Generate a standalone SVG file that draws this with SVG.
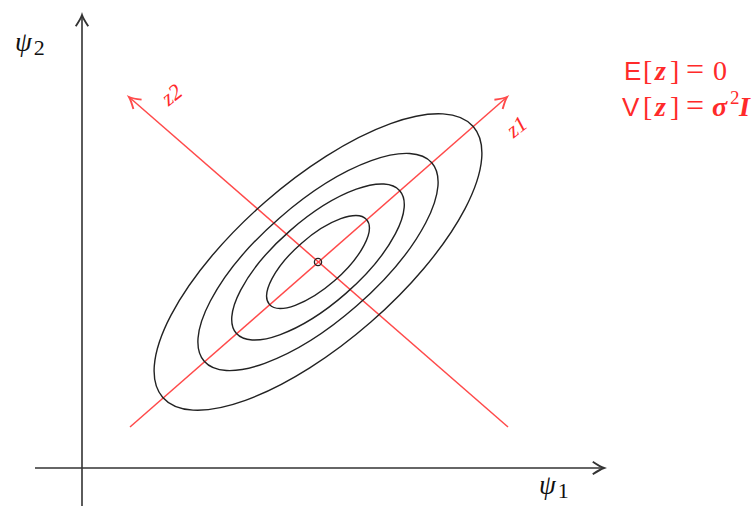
<svg xmlns="http://www.w3.org/2000/svg" width="755" height="506" viewBox="0 0 755 506">
<style>
.ax{stroke:#333;stroke-width:1.6;fill:none}
.rd{stroke:#ff4a4a;stroke-width:1.5;fill:none}
.el{stroke:#222;stroke-width:1.4;fill:none}
.math{font-family:"Liberation Serif","DejaVu Serif",serif;font-style:italic}
.red{fill:#ff2a2a}
.eq{font-family:"Liberation Serif","DejaVu Serif",serif;font-size:28px}
.sf{font-family:"Liberation Sans","DejaVu Sans",sans-serif;font-size:26px}
.bi{font-weight:bold;font-style:italic}
</style>
<defs>
<marker id="ahk" markerUnits="userSpaceOnUse" markerWidth="20" markerHeight="20" refX="0" refY="0" viewBox="-12 -8 14 16" orient="auto">
<path d="M-9,-5 Q-3,-1 0,0 Q-3,1 -9,5" fill="none" stroke="#333" stroke-width="1.5"/>
</marker>
<marker id="ahr" markerUnits="userSpaceOnUse" markerWidth="20" markerHeight="20" refX="0" refY="0" viewBox="-12 -8 14 16" orient="auto">
<path d="M-9,-5 Q-3,-1 0,0 Q-3,1 -9,5" fill="none" stroke="#ff4a4a" stroke-width="1.5"/>
</marker>
</defs>
<rect width="755" height="506" fill="#fff"/>
<g id="connectors">
<line class="ax" x1="82" y1="506" x2="82" y2="15" marker-end="url(#ahk)"/>
<line class="ax" x1="35" y1="468" x2="604" y2="468" marker-end="url(#ahk)"/>
<line class="rd" x1="130" y1="427" x2="507" y2="97" marker-end="url(#ahr)"/>
<line class="rd" x1="508" y1="427" x2="129" y2="97" marker-end="url(#ahr)"/>
</g>
<g id="contours">
<ellipse class="el" cx="318" cy="262" rx="64.5" ry="25" transform="rotate(-41.1 318 262)"/>
<ellipse class="el" cx="318" cy="262" rx="108.5" ry="42" transform="rotate(-41.1 318 262)"/>
<ellipse class="el" cx="318" cy="262" rx="151" ry="58.5" transform="rotate(-41.1 318 262)"/>
<ellipse class="el" cx="318" cy="262" rx="206" ry="80" transform="rotate(-41.1 318 262)"/>
</g>
<g id="mean">
<circle cx="318" cy="262" r="3.6" fill="none" stroke="#222" stroke-width="1.3"/>
</g>
<g id="psi2">
<text x="15" y="51" class="math" font-size="27" fill="#111">ψ<tspan font-style="normal" font-size="22" dx="2" dy="4">2</tspan></text>
</g>
<g id="psi1">
<text x="539" y="494" class="math" font-size="27" fill="#111">ψ<tspan font-style="normal" font-size="22" dx="2" dy="4">1</tspan></text>
</g>
<g id="z1label">
<text x="517" y="134" class="math red" font-size="22" text-anchor="middle" transform="rotate(-38 517 127)">z1</text>
</g>
<g id="z2label">
<text x="172" y="102" class="math red" font-size="22" text-anchor="middle" transform="rotate(-38 172 95)">z2</text>
</g>
<g id="equations" class="red">
<text y="80" class="eq"><tspan x="624" class="sf">E</tspan><tspan x="643">[</tspan><tspan x="655" class="bi">z</tspan><tspan x="670">]</tspan><tspan x="686" font-size="32">=</tspan><tspan x="713">0</tspan></text>
<text y="116" class="eq"><tspan x="622" class="sf">V</tspan><tspan x="643">[</tspan><tspan x="655" class="bi">z</tspan><tspan x="670">]</tspan><tspan x="686" font-size="32">=</tspan><tspan x="712" class="bi">σ</tspan><tspan x="730" font-size="19" dy="-12">2</tspan><tspan x="739" class="bi" dy="12">I</tspan></text>
</g>
</svg>
